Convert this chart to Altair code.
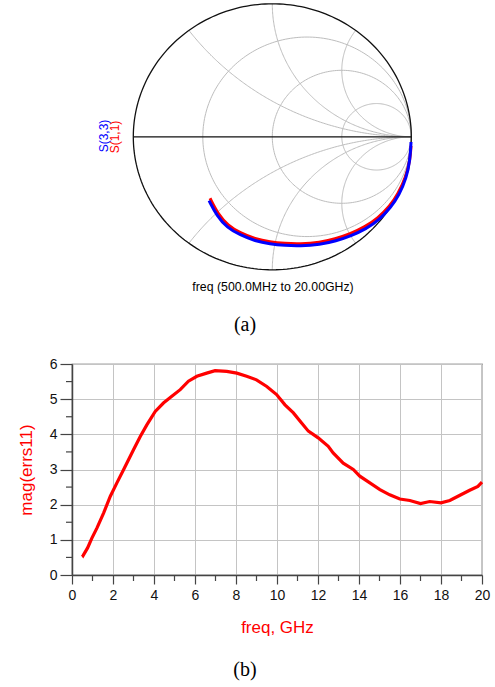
import numpy as np
import pandas as pd
import altair as alt

# ---------------- data ----------------
freq_ghz = [0.5, 0.54, 0.76, 0.97, 1.22, 1.54, 1.87, 2.19, 2.52, 3.0, 3.33, 3.65, 4.06, 4.46,
            4.87, 5.28, 5.68, 6.09, 6.57, 6.98, 7.55, 8.04, 8.52, 9.0, 9.5, 9.98, 10.39,
            10.8, 11.2, 11.53, 12.01, 12.5, 12.74, 13.23, 13.72, 14.04, 14.53, 15.02, 15.5,
            15.99, 16.48, 17.0, 17.45, 18.0, 18.43, 18.9, 19.4, 19.8, 20.0]
mag_errs11 = [0.58, 0.55, 0.77, 1.05, 1.34, 1.76, 2.24, 2.62, 3.0, 3.56, 3.94, 4.27, 4.65, 4.89,
              5.08, 5.27, 5.51, 5.65, 5.74, 5.81, 5.79, 5.74, 5.65, 5.55, 5.36, 5.13, 4.84,
              4.61, 4.32, 4.09, 3.9, 3.66, 3.47, 3.18, 3.0, 2.81, 2.62, 2.43, 2.28,
              2.16, 2.12, 2.03, 2.09, 2.05, 2.12, 2.26, 2.41, 2.52, 2.64]

s11_re = [0.998, 0.991, 0.962, 0.904, 0.847, 0.760, 0.667, 0.559, 0.451, 0.343, 0.199, 0.091,
          -0.017, -0.124, -0.232, -0.319, -0.391, -0.448]
s11_im = [-0.069, -0.174, -0.302, -0.430, -0.520, -0.611, -0.678, -0.731, -0.768, -0.795, -0.806,
          -0.802, -0.791, -0.768, -0.723, -0.667, -0.580, -0.462]
s33_re = [0.998, 0.991, 0.965, 0.912, 0.854, 0.768, 0.674, 0.566, 0.458, 0.343, 0.199, 0.091,
          -0.017, -0.124, -0.232, -0.326, -0.398, -0.455]
s33_im = [-0.039, -0.174, -0.310, -0.438, -0.528, -0.626, -0.693, -0.745, -0.783, -0.810, -0.821,
          -0.817, -0.806, -0.783, -0.738, -0.682, -0.595, -0.480]

smith_resistance = [1 / 3, 1.0, 3.0]
smith_reactance = [0.5, 1.0, 2.0]

x_major = list(range(0, 21, 2))
x_minor = list(range(1, 20, 2))
y_major = [0, 1, 2, 3, 4, 5, 6]
y_minor = [0.5, 1.5, 2.5, 3.5, 4.5, 5.5]

# ---------------- layout constants ----------------
PL, PT, W, H = 72, 364, 410, 211          # plot area of panel (b)
CX, CY, RX, RY = 272.3, 136.8, 139.0, 133.0  # Smith chart centre / radii (pixels)

FONT = "Liberation Sans"
SERIF = "Liberation Serif"

# ---------------- Smith chart geometry ----------------
rows = []
t = np.linspace(0, 2 * np.pi, 241)
gid = 0
for r in smith_resistance:
    c, rad = r / (1 + r), 1 / (1 + r)
    for k, a in enumerate(t):
        rows.append(dict(g=f"g{gid}", o=k, re=c + rad * np.cos(a), im=rad * np.sin(a), kind="grid"))
    gid += 1
for xv in smith_reactance:
    rad = 1 / xv
    ex, ey = (xv ** 2 - 1) / (xv ** 2 + 1), 2 * xv / (xv ** 2 + 1)
    th_end = np.arctan2(ey - rad, ex - 1)
    if th_end > -np.pi / 2:
        th_end -= 2 * np.pi
    th = np.linspace(-np.pi / 2, th_end, 160)
    for sgn in (1, -1):
        for k, a in enumerate(th):
            rows.append(dict(g=f"g{gid}", o=k, re=1 + rad * np.cos(a), im=sgn * (rad + rad * np.sin(a)), kind="grid"))
        gid += 1
for k, a in enumerate(t):
    rows.append(dict(g="outer", o=k, re=np.cos(a), im=np.sin(a), kind="frame"))
rows.append(dict(g="hline", o=0, re=-1.0, im=0.0, kind="frame"))
rows.append(dict(g="hline", o=1, re=1.0, im=0.0, kind="frame"))
smith_df = pd.DataFrame(rows)

sx = alt.Scale(domain=[(PL - CX) / RX, (PL + W - CX) / RX], nice=False, zero=False)
sy = alt.Scale(domain=[(CY - PT - H) / RY, (CY - PT) / RY], nice=False, zero=False)

grid_layer = alt.Chart(smith_df[smith_df.kind == "grid"]).mark_line(
    color="#bdbdbd", strokeWidth=1, clip=False
).encode(
    x=alt.X("re:Q", scale=sx, axis=None),
    y=alt.Y("im:Q", scale=sy, axis=None),
    detail="g:N", order="o:Q"
)
frame_layer = alt.Chart(smith_df[smith_df.kind == "frame"]).mark_line(
    color="#111111", strokeWidth=1.3, clip=False
).encode(
    x=alt.X("re:Q", scale=sx, axis=None),
    y=alt.Y("im:Q", scale=sy, axis=None),
    detail="g:N", order="o:Q"
)

s11_df = pd.DataFrame({"re": s11_re, "im": s11_im, "o": range(len(s11_re))})
s33_df = pd.DataFrame({"re": s33_re, "im": s33_im, "o": range(len(s33_re))})

s11_layer = alt.Chart(s11_df).mark_line(color="#ff0000", strokeWidth=3, interpolate="basis", clip=False).encode(
    x=alt.X("re:Q", scale=sx, axis=None), y=alt.Y("im:Q", scale=sy, axis=None), order="o:Q")
s33_layer = alt.Chart(s33_df).mark_line(color="#0000ff", strokeWidth=3, interpolate="basis", clip=False).encode(
    x=alt.X("re:Q", scale=sx, axis=None), y=alt.Y("im:Q", scale=sy, axis=None), order="o:Q")

smith = alt.layer(grid_layer, frame_layer, s11_layer, s33_layer)

# ---------------- text annotations ----------------
def label(text, ax, ay, color="black", size=12, font=FONT, angle=0):
    return alt.Chart(pd.DataFrame({"t": [text]})).mark_text(
        color=color, fontSize=size, font=font, angle=angle, align="center", baseline="middle"
    ).encode(text="t:N", x=alt.value(ax - PL), y=alt.value(ay - PT))

texts = alt.layer(
    label("S(3,3)", 103.5, 136, color="#0000ff", size=12, angle=270),
    label("S(1,1)", 115, 137, color="#ff0000", size=12, angle=270),
    label("freq (500.0MHz to 20.00GHz)", 273, 287, size=12.3),
    label("(a)", 245, 325, size=20, font=SERIF),
    label("(b)", 245, 670, size=20, font=SERIF),
)

# ---------------- panel (b) ----------------
mag_df = pd.DataFrame({"freq": freq_ghz, "mag": mag_errs11})

def xs():
    return alt.Scale(domain=[0, 20], nice=False, zero=False)

def ys():
    return alt.Scale(domain=[0, 6], nice=False, zero=False)

curve = alt.Chart(mag_df).mark_line(color="#ff0000", strokeWidth=3.2).encode(
    x=alt.X("freq:Q", scale=xs(), axis=alt.Axis(
        values=x_major, title="freq, GHz", titleColor="#ff0000", titleFontSize=17,
        titleFontWeight="normal", titleFont=FONT, titlePadding=17,
        tickSize=9, labelPadding=4, labelFontSize=14, labelFont=FONT, labelColor="#111",
        labelFlush=False, labelOverlap=False, grid=True, gridColor="#c4c4c4", gridWidth=1,
        domainColor="#444", domainWidth=1.5, tickColor="#444", tickWidth=1.2)),
    y=alt.Y("mag:Q", scale=ys(), axis=alt.Axis(
        values=y_major, title="mag(errs11)", titleColor="#ff0000", titleFontSize=17,
        titleFontWeight="normal", titleFont=FONT, titlePadding=14,
        tickSize=12, labelPadding=3, labelFontSize=14, labelFont=FONT, labelColor="#111",
        labelFlush=False, labelOverlap=False, grid=True, gridColor="#c4c4c4", gridWidth=1,
        domainColor="#444", domainWidth=1.5, tickColor="#444", tickWidth=1.2)),
)

xminor = alt.Chart(pd.DataFrame({"f": x_minor})).mark_rule(color="#444", strokeWidth=1.2, clip=False).encode(
    x=alt.X("f:Q", scale=xs(), axis=None), y=alt.value(H), y2=alt.value(H + 6))
yminor = alt.Chart(pd.DataFrame({"m": y_minor})).mark_rule(color="#444", strokeWidth=1.2, clip=False).encode(
    y=alt.Y("m:Q", scale=ys(), axis=None), x=alt.value(0), x2=alt.value(-6))

chart = alt.layer(smith, texts, xminor, yminor, curve).resolve_scale(
    x="independent", y="independent"
).properties(
    width=W, height=H,
    padding={"left": PL, "top": PT, "right": 495 - PL - W, "bottom": 687 - PT - H},
    autosize=alt.AutoSizeParams(type="none"),
    background="white",
).configure_view(stroke="#444", strokeWidth=1.2)

chart.save("out.html", embed_options={"renderer": "svg", "actions": False})
